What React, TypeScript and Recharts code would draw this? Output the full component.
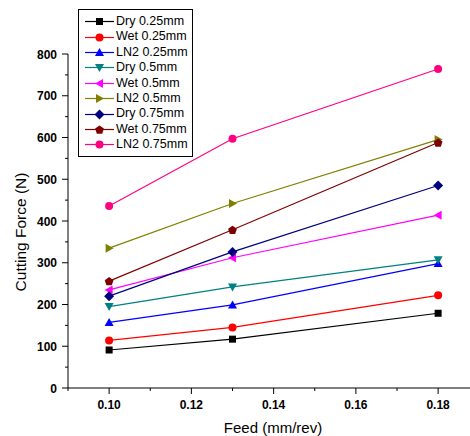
import React from 'react';
import { LineChart, Line, XAxis, YAxis, Legend } from 'recharts';

// Feed rate (mm/rev) and cutting forces (N)
const feed = [0.1, 0.13, 0.18];
const dry025 = [91, 117, 179];
const wet025 = [114, 145, 222];
const ln2025 = [157, 199, 298];
const dry05 = [195, 242, 307];
const wet05 = [235, 312, 414];
const ln205 = [335, 442, 595];
const dry075 = [220, 326, 485];
const wet075 = [256, 379, 588];
const ln2075 = [436, 597, 764];

const xTicks = [0.09, 0.1, 0.11, 0.12, 0.13, 0.14, 0.15, 0.16, 0.17, 0.18];
const xLabels = [0.1, 0.12, 0.14, 0.16, 0.18];
const yTicks = [0, 50, 100, 150, 200, 250, 300, 350, 400, 450, 500, 550, 600, 650, 700, 750, 800];
const yLabels = [0, 100, 200, 300, 400, 500, 600, 700, 800];

type Shape = 'square' | 'circle' | 'up' | 'down' | 'left' | 'right' | 'diamond' | 'pentagon';

const series: { key: string; name: string; color: string; shape: Shape; values: number[] }[] = [
  { key: 'dry025', name: 'Dry 0.25mm', color: '#000000', shape: 'square', values: dry025 },
  { key: 'wet025', name: 'Wet 0.25mm', color: '#ff0000', shape: 'circle', values: wet025 },
  { key: 'ln2025', name: 'LN2 0.25mm', color: '#0000ff', shape: 'up', values: ln2025 },
  { key: 'dry05', name: 'Dry 0.5mm', color: '#008080', shape: 'down', values: dry05 },
  { key: 'wet05', name: 'Wet 0.5mm', color: '#ff00ff', shape: 'left', values: wet05 },
  { key: 'ln205', name: 'LN2 0.5mm', color: '#808000', shape: 'right', values: ln205 },
  { key: 'dry075', name: 'Dry 0.75mm', color: '#000080', shape: 'diamond', values: dry075 },
  { key: 'wet075', name: 'Wet 0.75mm', color: '#800000', shape: 'pentagon', values: wet075 },
  { key: 'ln2075', name: 'LN2 0.75mm', color: '#ff0080', shape: 'circle', values: ln2075 },
];

const chartData = feed.map((f, i) => {
  const row: Record<string, number> = { feed: f };
  series.forEach(s => { row[s.key] = s.values[i]; });
  return row;
});

const FONT = '"Liberation Sans", Arial, sans-serif';

const Marker = ({ cx, cy, shape, color }: { cx: number; cy: number; shape: Shape; color: string }) => {
  const pts = (arr: number[][]) => arr.map(([a, b]) => `${cx + a},${cy + b}`).join(' ');
  switch (shape) {
    case 'square':
      return <rect x={cx - 3.5} y={cy - 3.5} width={7} height={7} fill={color} />;
    case 'circle':
      return <circle cx={cx} cy={cy} r={4} fill={color} />;
    case 'up':
      return <polygon points={pts([[0, -4.5], [4.5, 3.5], [-4.5, 3.5]])} fill={color} />;
    case 'down':
      return <polygon points={pts([[0, 4.5], [4.5, -3.5], [-4.5, -3.5]])} fill={color} />;
    case 'left':
      return <polygon points={pts([[-4.5, 0], [3.5, -4.5], [3.5, 4.5]])} fill={color} />;
    case 'right':
      return <polygon points={pts([[4.5, 0], [-3.5, -4.5], [-3.5, 4.5]])} fill={color} />;
    case 'diamond':
      return <polygon points={pts([[0, -5], [5, 0], [0, 5], [-5, 0]])} fill={color} />;
    case 'pentagon': {
      const p = [0, 1, 2, 3, 4].map(k => {
        const a = -Math.PI / 2 + (k * 2 * Math.PI) / 5;
        return [4.6 * Math.cos(a), 4.6 * Math.sin(a) + 0.5];
      });
      return <polygon points={pts(p)} fill={color} />;
    }
  }
  return null;
};

const XTick = (props: any) => {
  const { x, y, payload } = props;
  const v = payload.value;
  const major = xLabels.some(l => Math.abs(l - v) < 1e-6);
  return (
    <g>
      <line x1={x} x2={x} y1={y} y2={y + (major ? 6 : 3)} stroke="#000" />
      {major && (
        <text x={x} y={y + 21} textAnchor="middle" fontSize={12} fontWeight="bold" fontFamily={FONT} fill="#000">
          {v.toFixed(2)}
        </text>
      )}
    </g>
  );
};

const YTick = (props: any) => {
  const { x, y, payload } = props;
  const v = payload.value;
  const major = yLabels.includes(v);
  return (
    <g>
      <line x1={x} x2={x - (major ? 6 : 3)} y1={y} y2={y} stroke="#000" />
      {major && (
        <text x={x - 11} y={y + 4.5} textAnchor="end" fontSize={12} fontWeight="bold" fontFamily={FONT} fill="#000">
          {v}
        </text>
      )}
    </g>
  );
};

const LegendBox = () => (
  <div
    style={{
      border: '1px solid #000',
      background: '#fff',
      padding: '4px 4px 3px 5px',
      fontFamily: FONT,
      fontSize: 12.5,
      lineHeight: '15.4px',
    }}
  >
    {series.map(s => (
      <div key={s.key} style={{ display: 'flex', alignItems: 'center', whiteSpace: 'nowrap' }}>
        <svg width={32} height={15} style={{ display: 'block' }}>
          <line x1={1} x2={30} y1={7.5} y2={7.5} stroke={s.color} strokeWidth={1.2} />
          <Marker cx={15.5} cy={7.5} shape={s.shape} color={s.color} />
        </svg>
        <span style={{ color: '#000' }}>{s.name}</span>
      </div>
    ))}
  </div>
);

export default function App() {
  return (
    <div style={{ position: 'absolute', left: 0, top: 0, background: '#fff' }}>
      <LineChart width={470} height={436} data={chartData} margin={{ top: 54, right: 0, bottom: 0, left: 8 }}>
        <XAxis
          dataKey="feed"
          type="number"
          domain={[0.09, 0.18775]}
          allowDataOverflow
          ticks={xTicks}
          interval={0}
          tickSize={0}
          tickMargin={0}
          tick={<XTick />}
          height={48}
          axisLine={{ stroke: '#000', strokeWidth: 1 }}
          label={{
            value: 'Feed (mm/rev)',
            position: 'insideBottom',
            offset: 3,
            dx: 4,
            style: { fontSize: 15, fontFamily: FONT, fill: '#000' },
          }}
        />
        <YAxis
          type="number"
          domain={[0, 800]}
          ticks={yTicks}
          interval={0}
          tickSize={0}
          tickMargin={0}
          tick={<YTick />}
          width={60}
          axisLine={{ stroke: '#000', strokeWidth: 1 }}
          label={{
            value: 'Cutting Force (N)',
            angle: -90,
            position: 'insideLeft',
            offset: 12,
            dy: 11,
            style: { fontSize: 15.5, fontFamily: FONT, fill: '#000', textAnchor: 'middle' },
          }}
        />
        <Legend
          layout="horizontal"
          verticalAlign="middle"
          align="center"
          wrapperStyle={{ top: 9, left: 78, width: 'auto', height: 'auto' }}
          content={() => <LegendBox />}
        />
        {series.map(s => (
          <Line
            key={s.key}
            dataKey={s.key}
            name={s.name}
            type="linear"
            stroke={s.color}
            strokeWidth={1.2}
            isAnimationActive={false}
            activeDot={false}
            dot={(p: any) => <Marker key={`${s.key}-${p.index}`} cx={p.cx} cy={p.cy} shape={s.shape} color={s.color} />}
          />
        ))}
      </LineChart>
    </div>
  );
}
